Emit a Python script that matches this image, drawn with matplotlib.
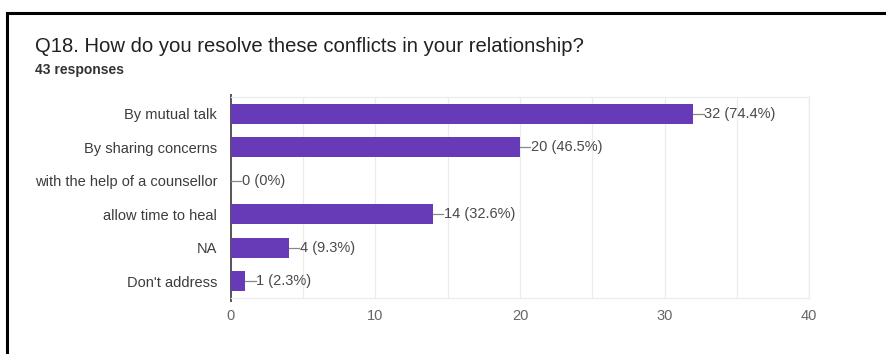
import matplotlib.pyplot as plt
from matplotlib.lines import Line2D

plt.rcParams['font.family'] = ['Liberation Sans', 'DejaVu Sans']

# Survey answers and response counts
answers = ['By mutual talk', 'By sharing concerns', 'with the help of a counsellor',
           'allow time to heal', 'NA', "Don't address"]
counts = [32, 20, 0, 14, 4, 1]
percents = ['74.4%', '46.5%', '0%', '32.6%', '9.3%', '2.3%']
total = 43
xticks = [0, 10, 20, 30, 40]

fig = plt.figure(figsize=(8.86, 3.54), dpi=100)
ax = fig.add_axes([0.2607, 0.158, 0.6524, 0.568])

bar_color = '#673ab7'
ypos = list(range(len(answers)))
ax.barh(ypos, counts, height=0.6, color=bar_color, zorder=3)

# leader line + value label to the right of each bar
for y, c, p in zip(ypos, counts, percents):
    ax.plot([c, c + 0.7], [y, y], color='#888888', lw=0.9, zorder=3)
    ax.text(c + 0.75, y, f'{c} ({p})', va='center', ha='left',
            fontsize=10.5, color='#4a4a4a')

ax.set_xlim(0, 40)
ax.set_ylim(len(answers) - 0.5, -0.5)
ax.set_xticks(xticks)
ax.set_xticks([5, 15, 25, 35], minor=True)
ax.set_yticks(ypos)
ax.set_yticklabels(answers)
ax.tick_params(axis='y', length=0, pad=10, labelsize=10.5, labelcolor='#3c3c3c')
ax.tick_params(axis='x', which='both', length=0, pad=8, labelsize=10.5, labelcolor='#666666')
ax.grid(axis='x', which='both', color='#ececec', lw=0.9, zorder=0)

for side in ['top', 'right', 'bottom']:
    ax.spines[side].set_color('#ececec')
    ax.spines[side].set_linewidth(0.9)
ax.spines['left'].set_color('#555555')
ax.spines['left'].set_linewidth(1.4)
ax.spines['left'].set_bounds(-0.55, 5.6)

fig.text(35 / 886, 1 - 47 / 354, 'Q18. How do you resolve these conflicts in your relationship?',
         fontsize=14.6, color='#202124', va='center', ha='left')
fig.text(35 / 886, 1 - 70 / 354, f'{total} responses', fontsize=10, color='#333333',
         va='center', ha='left', fontweight='bold')

# frame lines of the card
fig.add_artist(Line2D([7 / 886, 1], [1 - 13 / 354, 1 - 13 / 354], color='black', lw=2.2,
                      transform=fig.transFigure))
fig.add_artist(Line2D([7 / 886, 7 / 886], [0, 1 - 13 / 354], color='black', lw=2.2,
                      transform=fig.transFigure))

fig.savefig('out.png', dpi=100)
